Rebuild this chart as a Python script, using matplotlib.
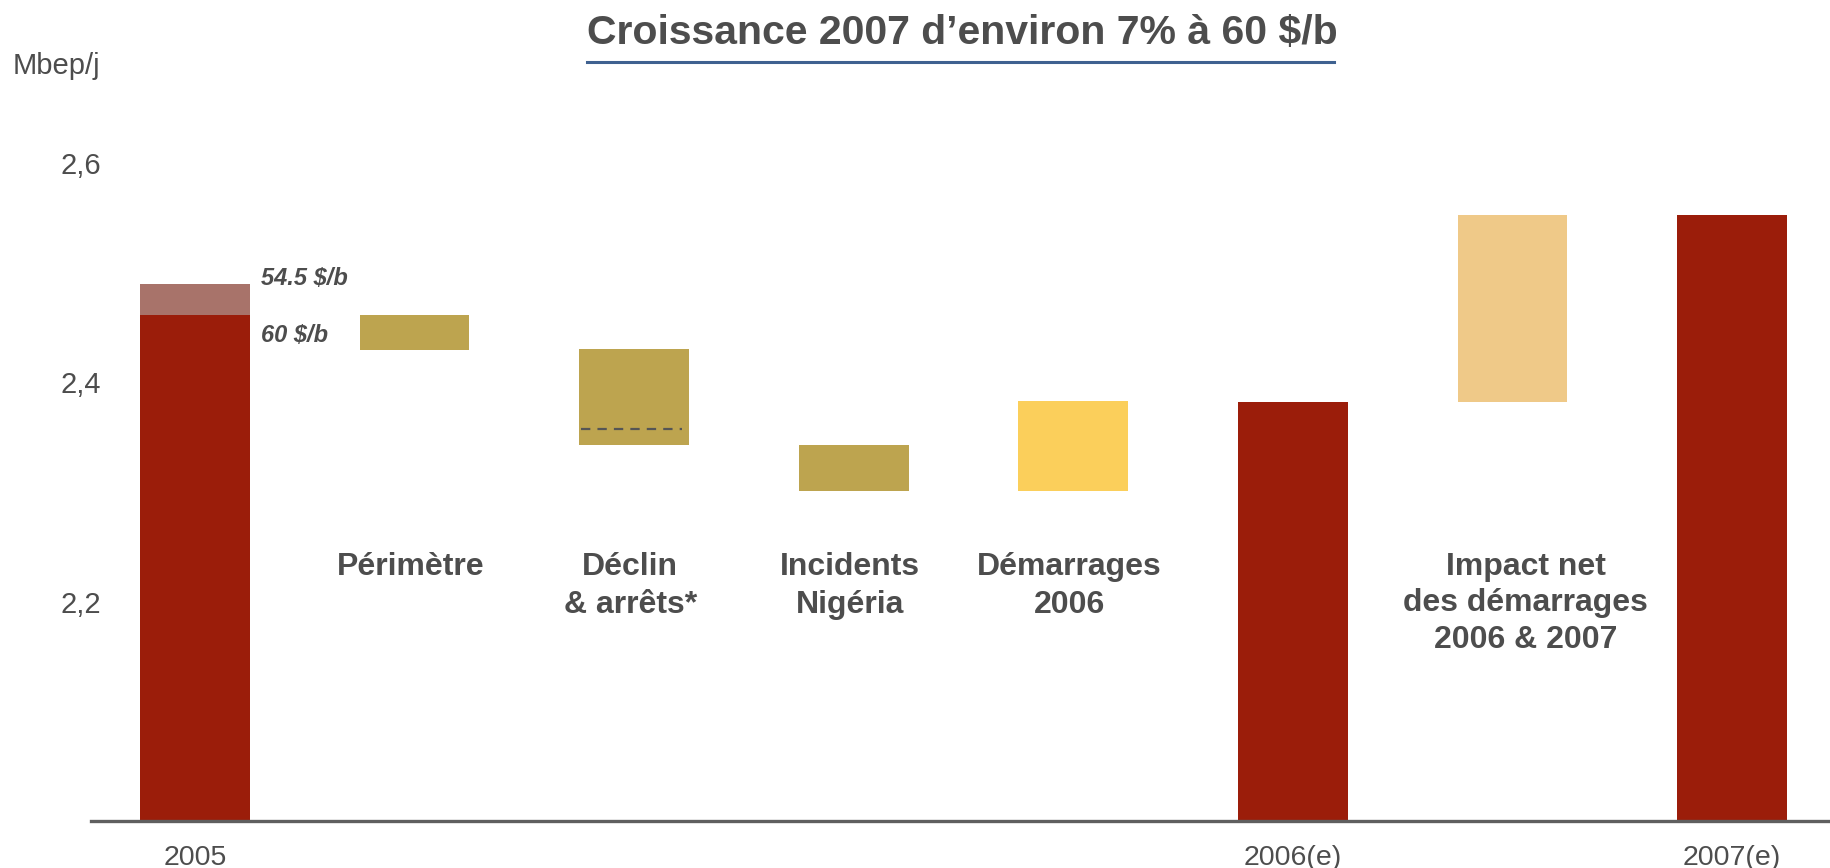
import matplotlib
matplotlib.use("Agg")
import matplotlib.pyplot as plt
from matplotlib.lines import Line2D

plt.rcParams['font.family'] = ['Liberation Sans', 'DejaVu Sans']

# Données (Mbep/j)
categories = ["2005", "Périmètre", "Déclin\n& arrêts*", "Incidents\nNigéria",
              "Démarrages\n2006", "2006(e)", "Impact net\ndes démarrages\n2006 & 2007", "2007(e)"]
bottoms = [2.0, 2.429, 2.343, 2.301, 2.301, 2.0, 2.382, 2.0]
tops = [2.461, 2.461, 2.430, 2.343, 2.383, 2.382, 2.552, 2.552]
colors = ["#9b1d0a", "#bda44f", "#bda44f", "#bda44f", "#fbcf5b", "#9b1d0a", "#efc988", "#9b1d0a"]
top_2005_545 = 2.489          # 2005 à 54.5 $/b
declin_60 = 2.357             # déclin à 60 $/b (pointillés)
xtick_labels = ["2005", "2006(e)", "2007(e)"]
xtick_pos = [0, 5, 7]
yticks = [2.2, 2.4, 2.6]
ytick_labels = ["2,2", "2,4", "2,6"]

gray = "#4d4d4d"

fig = plt.figure(figsize=(18.31, 8.68), dpi=100)
ax = fig.add_axes([0.0497, 0.0541, 1 - 0.0497, 0.885])

x = list(range(len(categories)))
heights = [t - b for t, b in zip(tops, bottoms)]
ax.bar(x, heights, bottom=bottoms, width=0.5, color=colors, zorder=2)
# partie claire 2005 (54.5 $/b)
ax.bar(0, top_2005_545 - tops[0], bottom=tops[0], width=0.5, color="#a8736a", zorder=2)
# pointillés sur Déclin
ax.plot([1.76, 2.22], [declin_60, declin_60], color="#555555", lw=1.6,
        linestyle=(0, (4.2, 3.2)), zorder=3)

ax.text(0.30, 2.4945, "54.5 $/b", fontsize=17, fontweight="bold", style="italic",
        color=gray, va="center", ha="left")
ax.text(0.30, 2.4425, "60 $/b", fontsize=17, fontweight="bold", style="italic",
        color=gray, va="center", ha="left")

# libellés des catégories intermédiaires
for i in [1, 2, 3, 4]:
    ax.text(i - 0.017, 2.245, categories[i], fontsize=23, fontweight="bold", color=gray,
            ha="center", va="top", linespacing=1.32)
ax.text(6.06, 2.245, categories[6], fontsize=23, fontweight="bold", color=gray,
        ha="center", va="top", linespacing=1.27)

ax.set_xlim(-0.473, 7.45)
ax.set_ylim(2.0, 2.7)
ax.set_xticks(xtick_pos)
ax.set_xticklabels(xtick_labels, fontsize=20.5, color=gray)
ax.set_yticks(yticks)
ax.set_yticklabels(ytick_labels, fontsize=21, color=gray)
ax.tick_params(axis="both", length=0)
ax.tick_params(axis="y", pad=-7)
ax.tick_params(axis="x", pad=17)
for s in ["top", "right", "left"]:
    ax.spines[s].set_visible(False)
ax.spines["bottom"].set_color("#5f5f5f")
ax.spines["bottom"].set_linewidth(2.4)

fig.text(100 / 1831, 1 - 66 / 868, "Mbep/j", fontsize=21, color=gray, ha="right", va="center")

fig.text(962 / 1831, 1 - 33 / 868, "Croissance 2007 d’environ 7% à 60 $/b", fontsize=29.5,
         fontweight="bold", color=gray, ha="center", va="center")
fig.add_artist(Line2D([587 / 1831, 1334 / 1831], [1 - 62 / 868, 1 - 62 / 868],
                      color="#3f6190", lw=2.2, transform=fig.transFigure))

fig.savefig("out.png", dpi=100)
